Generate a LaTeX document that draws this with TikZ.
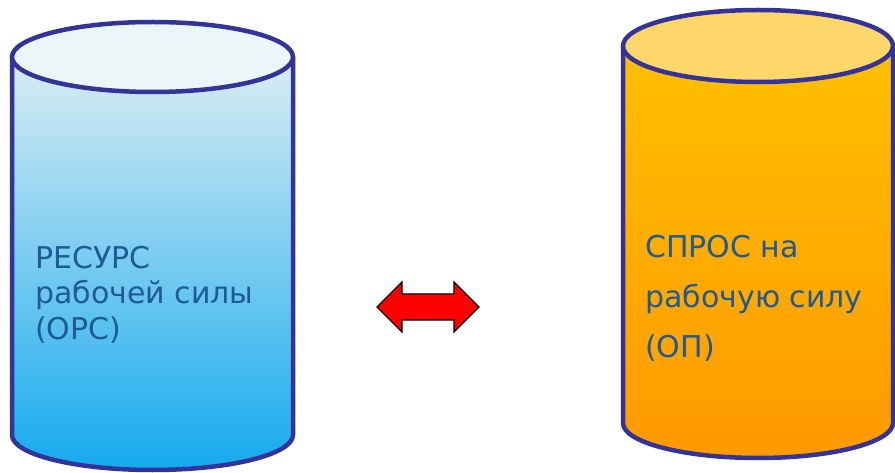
\documentclass[tikz,border=0pt]{standalone}
\usepackage{fontspec}
\setmainfont{DejaVu Sans}
\usepackage{xcolor}
\usepackage{tikz}

\definecolor{rimblue}{RGB}{51,51,153}
\definecolor{labelblue}{RGB}{31,90,150}
\definecolor{iceTop}{RGB}{234,246,248}
\definecolor{iceHigh}{RGB}{218,237,243}
\definecolor{iceMid}{RGB}{166,214,240}
\definecolor{iceLow}{RGB}{20,170,238}
\definecolor{sunTop}{RGB}{253,215,106}
\definecolor{sunHigh}{RGB}{255,192,0}
\definecolor{sunLow}{RGB}{255,153,0}

\begin{document}
\begin{tikzpicture}[x=1pt,y=1pt]
    \useasboundingbox (0,0) rectangle (895,472);

    % Resource (left)
    \begin{scope}[xshift=152.5pt]
        % Body
        \shade[top color=iceHigh,middle color=iceMid,bottom color=iceLow,
               draw=rimblue,line width=4.5pt,line join=round]
            (-140.5,415) -- (-140.5,37)
            arc[start angle=180,end angle=360,x radius=140.5,y radius=35]
            -- (140.5,415) -- cycle;
        % Lid
        \draw[rimblue,fill=iceTop,line width=4.5pt]
            (0,415) ellipse[x radius=140.5,y radius=35];
    \end{scope}

    % Demand (right)
    \begin{scope}[xshift=758pt]
        % Body
        \shade[top color=sunHigh,bottom color=sunLow,
               draw=rimblue,line width=4.5pt,line join=round]
            (-135,426) -- (-135,49)
            arc[start angle=180,end angle=360,x radius=135,y radius=35]
            -- (135,426) -- cycle;
        % Lid
        \draw[rimblue,fill=sunTop,line width=4.5pt]
            (0,426) ellipse[x radius=135,y radius=36];
    \end{scope}

    % Labels
    \node[anchor=base west,inner sep=0pt,align=left,text=labelblue,
          font=\fontsize{30}{35}\selectfont] (orc) at (35,133)
        {РЕСУРС\\рабочей силы\\(ОРС)};
    \node[anchor=base west,inner sep=0pt,align=left,text=labelblue,
          font=\fontsize{30}{49.5}\selectfont] (op) at (645,115)
        {СПРОС на\\рабочую силу\\(ОП)};

    % Double arrow
    \draw[fill=red,draw=black,line width=1.2pt,line join=miter]
        (377,165) -- (402,190) -- (402,178) -- (454,178) -- (454,190)
        -- (479,165) -- (454,140) -- (454,152) -- (402,152) -- (402,140)
        -- cycle;
\end{tikzpicture}
\end{document}
